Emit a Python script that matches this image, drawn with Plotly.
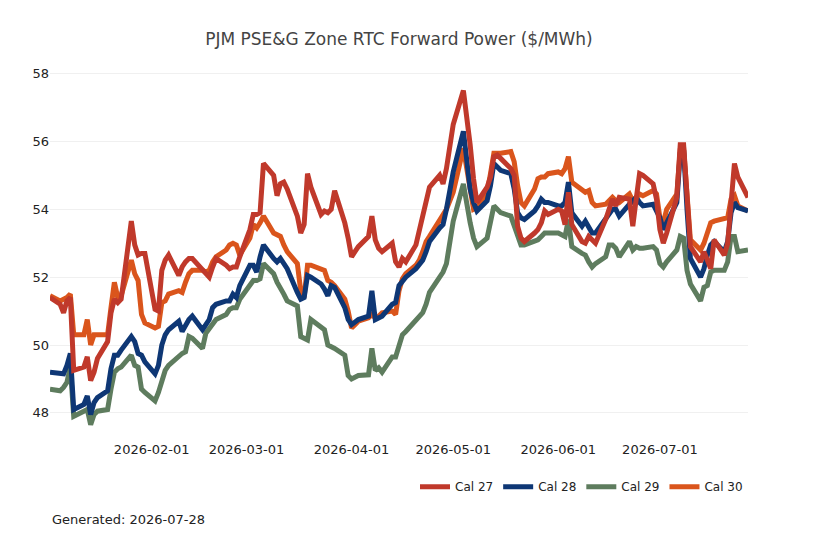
import pandas as pd
import plotly.graph_objects as go

# business days shown on the chart
dates = pd.bdate_range("2026-01-02", "2026-07-27")

# values, one block per month (Jan .. Jul)
cal_27 = [
    51.4, 51.2, 50.95, 51.3, 51.4, 49.25, 49.35, 49.65, 48.95, 49.2, 49.6, 50.1, 50.95, 51.35, 51.25, 51.35, 53.65, 52.95, 52.65, 52.7, 52.7,
    51.05, 51.0, 52.2, 52.5, 52.65, 52.05, 52.3, 52.45, 52.55, 52.55, 52.2, 52.1, 52.0, 52.3, 52.55, 52.35, 52.25, 52.3, 52.3, 52.6,
    53.4, 53.85, 53.85, 53.9, 55.35, 55.0, 54.4, 54.75, 54.8, 54.6, 53.8, 53.3, 53.55, 55.05, 54.65, 53.85, 53.95, 53.9, 54.0, 54.55, 53.6, 53.15,
    52.6, 52.75, 52.9, 53.2, 53.8, 53.1, 52.85, 52.75, 53.0, 52.45, 52.3, 52.55, 52.45, 52.95, 53.4, 53.85, 54.3, 54.65, 55.0, 54.75, 55.2, 55.8,
    56.5, 57.5, 56.75, 55.9, 54.9, 54.2, 54.65, 54.95, 55.55, 55.6, 55.5, 55.2, 55.0, 53.5, 53.15, 53.05, 53.3, 53.4, 53.6, 53.95, 53.85,
    54.0, 53.95, 53.55, 54.5, 53.55, 53.05, 53.0, 53.2, 53.1, 53.0, 53.7, 54.0, 54.3, 54.1, 54.35, 54.3, 53.5, 54.3, 55.05, 55.0, 54.75, 54.3,
    53.4, 53.0, 53.3, 54.35, 55.9, 55.9, 54.2, 52.9, 52.45, 52.75, 52.5, 52.25, 53.1, 52.65, 53.0, 54.4, 55.35, 54.95, 54.35,
]
cal_28 = [
    49.2, 49.15, 49.15, 49.4, 49.75, 48.1, 48.25, 48.5, 47.95, 48.3, 48.45, 48.65, 49.3, 49.7, 49.7, 49.85, 50.25, 50.1, 49.75, 49.7, 49.5,
    49.15, 49.4, 50.0, 50.3, 50.45, 50.7, 50.4, 50.6, 50.75, 50.85, 50.45, 50.6, 50.75, 51.1, 51.2, 51.3, 51.3, 51.5, 51.4, 51.75,
    52.35, 52.35, 52.15, 52.6, 52.95, 52.55, 52.45, 52.55, 52.4, 52.25, 51.55, 51.35, 51.4, 52.05, 52.0, 51.8, 51.65, 51.45, 51.75, 51.7, 51.1, 50.75,
    50.6, 50.7, 50.75, 50.85, 51.6, 50.75, 50.8, 50.85, 51.2, 51.25, 51.75, 51.9, 52.0, 52.25, 52.35, 52.5, 52.75, 53.05, 53.45, 53.55, 54.0, 54.6,
    55.1, 56.3, 55.35, 54.6, 54.2, 53.95, 54.25, 54.7, 55.35, 55.25, 55.15, 55.05, 54.6, 53.9, 53.75, 53.7, 53.95, 54.1, 54.3, 54.2, 54.2,
    54.1, 54.1, 54.2, 54.8, 53.9, 53.5, 53.65, 53.45, 53.3, 53.3, 53.75, 53.85, 54.0, 54.0, 53.8, 54.15, 54.25, 54.35, 54.2, 54.1, 54.15, 53.95,
    53.75, 53.4, 53.6, 54.2, 55.65, 55.75, 54.0, 52.55, 52.0, 52.25, 52.65, 52.95, 53.05, 52.75, 53.05, 53.9, 54.2, 54.05, 53.95,
]
cal_29 = [
    48.7, 48.65, 48.75, 48.9, 49.35, 47.9, 48.05, 48.1, 47.65, 47.95, 48.05, 48.1, 48.7, 49.2, 49.3, 49.35, 49.7, 49.4, 49.35, 48.7, 48.6,
    48.35, 48.6, 48.9, 49.25, 49.4, 49.7, 49.75, 49.8, 50.25, 50.2, 49.9, 50.35, 50.5, 50.6, 50.75, 50.9, 51.05, 51.1, 51.1, 51.35,
    51.8, 51.9, 51.9, 51.95, 52.4, 52.1, 51.85, 51.7, 51.5, 51.3, 51.15, 50.25, 50.2, 50.15, 50.75, 50.55, 50.45, 50.0, 49.95, 49.9, 49.7, 49.1,
    49.0, 49.05, 49.1, 49.12, 49.9, 49.25, 49.33, 49.2, 49.65, 49.65, 50.05, 50.3, 50.4, 50.7, 50.85, 50.95, 51.2, 51.55, 52.0, 52.15, 52.4, 53.1,
    53.65, 54.75, 54.05, 53.6, 53.15, 52.9, 53.15, 53.6, 54.1, 54.0, 53.9, 53.8, 53.5, 53.2, 52.95, 52.95, 53.05, 53.1, 53.2, 53.3, 53.3,
    53.3, 53.25, 53.2, 53.7, 52.9, 52.7, 52.65, 52.45, 52.3, 52.4, 52.6, 52.95, 52.95, 52.85, 52.6, 53.05, 52.8, 52.9, 52.85, 52.85, 52.9, 52.8,
    52.4, 52.3, 52.45, 52.8, 53.2, 53.15, 52.2, 51.8, 51.3, 51.7, 51.75, 52.15, 52.2, 52.2, 52.45, 53.2, 53.2, 52.75, 52.8,
]
cal_30 = [
    51.45, 51.3, 51.35, 51.4, 51.5, 50.3, 50.3, 50.75, 50.0, 50.3, 50.3, 50.3, 51.1, 51.85, 51.4, 51.45, 52.5, 52.1, 51.9, 50.9, 50.65,
    50.5, 50.55, 51.25, 51.3, 51.5, 51.6, 51.55, 51.85, 52.1, 52.2, 52.2, 52.15, 52.2, 52.45, 52.6, 52.8, 52.95, 53.0, 52.95, 52.65,
    53.15, 53.55, 53.45, 53.6, 53.8, 53.3, 53.25, 53.2, 52.95, 52.75, 52.4, 51.6, 51.4, 52.35, 52.35, 52.25, 52.2, 51.9, 51.85, 51.75, 51.35, 51.0,
    50.5, 50.6, 50.7, 50.8, 50.9, 50.8, 50.85, 50.95, 51.0, 50.9, 51.6, 51.95, 52.1, 52.35, 52.5, 52.75, 53.05, 53.2, 53.65, 53.85, 54.0, 54.25,
    54.5, 55.8, 55.2, 54.5, 54.0, 54.05, 54.5, 55.05, 55.65, 55.65, 55.65, 55.7, 55.4, 54.7, 54.2, 54.1, 54.6, 54.9, 54.95, 54.95, 55.05,
    55.1, 55.05, 55.2, 55.55, 54.8, 54.55, 54.5, 54.55, 54.2, 54.1, 54.15, 54.25, 54.35, 54.25, 54.2, 54.45, 54.25, 54.35, 54.45, 54.4, 54.55, 54.45,
    53.75, 53.6, 54.0, 54.45, 55.75, 55.8, 54.3, 53.1, 52.8, 53.0, 53.3, 53.6, 53.65, 53.7, 53.75, 54.3, 54.4, 54.1, 53.95,
]

series = {"Cal 27": cal_27, "Cal 28": cal_28, "Cal 29": cal_29, "Cal 30": cal_30}
colors = {"Cal 27": "#c0392b", "Cal 28": "#0e3775", "Cal 29": "#5e7c5e", "Cal 30": "#da551c"}

df = pd.DataFrame(series, index=dates)

fig = go.Figure()
# Cal 27 sits on top, so draw the traces back to front
for name in reversed(list(series)):
    fig.add_trace(go.Scatter(x=df.index, y=df[name], mode="lines", name=name,
                             line=dict(color=colors[name], width=5)))

# page body adds an 8px offset, so the figure is a bit smaller
fig.update_layout(
    width=810, height=537,
    margin=dict(l=42, r=70, t=52, b=105),
    paper_bgcolor="white", plot_bgcolor="white",
    font=dict(family="DejaVu Sans", size=13, color="#222"),
    title=dict(text="PJM PSE&G Zone RTC Forward Power ($/MWh)", x=0.5, xref="paper",
               y=0.942, yanchor="middle", font=dict(size=17, color="#444")),
    legend=dict(orientation="h", traceorder="reversed", x=1, xanchor="right",
                y=-0.085, yanchor="top", font=dict(size=12)),
    showlegend=True,
)
fig.update_xaxes(range=[dates[0], dates[-1]], tickformat="%Y-%m-%d", dtick="M1",
                 tick0="2026-01-01", showgrid=False, zeroline=False, showline=False,
                 ticks="")
fig.update_yaxes(range=[47.2, 58.4], dtick=2, gridcolor="#f0f0f0", zeroline=False,
                 showline=False, ticks="")
fig.add_annotation(text="Generated: 2026-07-28", xref="paper", yref="paper",
                   x=0, y=-0.21, xanchor="left", yanchor="middle",
                   showarrow=False, font=dict(size=13, color="#222"))

fig.write_html("out.html")
